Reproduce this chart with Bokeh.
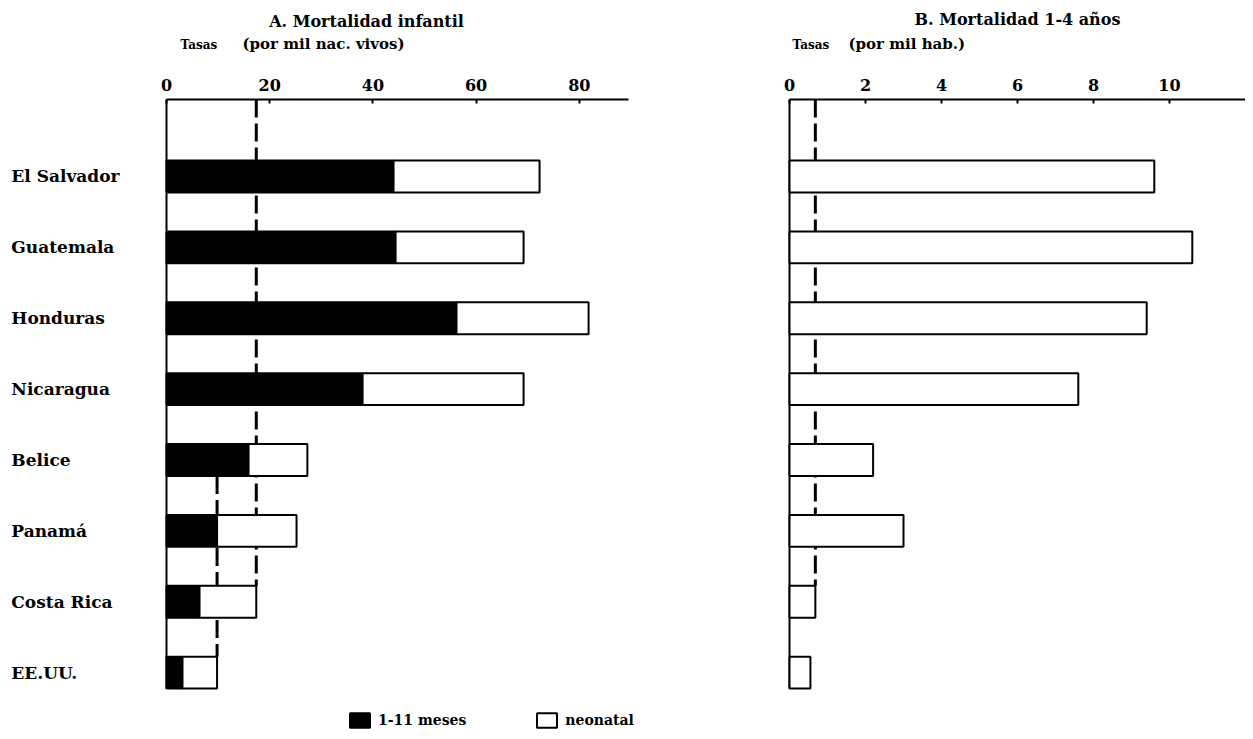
from bokeh.plotting import figure
from bokeh.layouts import row, column
from bokeh.models import Range1d, FixedTicker, Legend, LegendItem, LinearAxis
from bokeh.core.properties import value
from bokeh.embed import file_html
from bokeh.resources import INLINE

# ---------------- data ----------------
countries = ["El Salvador", "Guatemala", "Honduras", "Nicaragua",
             "Belice", "Panamá", "Costa Rica", "EE.UU."]
meses_1_11 = [44.0, 44.4, 56.2, 38.0, 15.9, 9.8, 6.4, 3.1]      # black part
neonatal = [28.3, 24.8, 25.6, 31.2, 11.4, 15.4, 11.0, 6.7]      # white part
mort_1_4 = [9.6, 10.6, 9.4, 7.6, 2.2, 3.0, 0.68, 0.55]
ticks_a = [0, 20, 40, 60, 80]
ticks_b = [0, 2, 4, 6, 8, 10]
ref_country = "Costa Rica"     # dashed reference line (both panels)
ref2_country = "EE.UU."        # second reference line (panel A)
ref2_from = "Belice"           # second line starts below this bar

title_a = "A. Mortalidad infantil"
title_b = "B. Mortalidad 1-4 años"
unit_a = "(por mil nac. vivos)"
unit_b = "(por mil hab.)"
tasas = "Tasas"

FONT = "DejaVu Serif"
HEAD_H = 60
MAIN_H = 671
TOP = 39
BAR_H = 0.45

idx = list(range(len(countries)))
total_a = [a + b for a, b in zip(meses_1_11, neonatal)]
y_top = -1.086
y_bot = 7.83


def base_fig(width, xr):
    p = figure(width=width, height=MAIN_H, x_range=xr, y_range=Range1d(y_bot, y_top),
               output_backend="svg", toolbar_location=None,
               x_axis_location=None, y_axis_location=None,
               min_border_left=0, min_border_right=0,
               min_border_top=TOP, min_border_bottom=0)
    p.grid.visible = False
    p.outline_line_color = None
    p.background_fill_color = "white"
    p.border_fill_color = "white"
    return p


def top_axis(p, ticks, bound):
    ax = LinearAxis(ticker=FixedTicker(ticks=ticks), bounds=(0, bound),
                    axis_line_width=2, axis_line_color="black",
                    major_tick_in=4, major_tick_out=0, major_tick_line_width=2,
                    minor_tick_line_color=None,
                    major_label_text_font=FONT, major_label_text_font_size="16px",
                    major_label_text_font_style="bold", major_label_text_color="black",
                    major_label_standoff=9)
    p.add_layout(ax, "above")


# ---------------- header (titles) ----------------
head = figure(width=1245, height=HEAD_H, x_range=Range1d(0, 1245), y_range=Range1d(HEAD_H, 0),
              output_backend="svg", toolbar_location=None,
              x_axis_location=None, y_axis_location=None,
              min_border=0)
head.grid.visible = False
head.outline_line_color = None
head.text(x=[366, 1017], y=[21, 19], text=[title_a, title_b],
          text_font=value(FONT), text_font_size="16px", text_font_style="bold",
          text_align="center", text_baseline="middle", text_color="black")
head.text(x=[180, 792], y=[44, 44], text=[tasas, tasas],
          text_font=value(FONT), text_font_size="12px", text_font_style="bold",
          text_align="left", text_baseline="middle", text_color="black")
head.text(x=[242, 848], y=[43, 43], text=[unit_a, unit_b],
          text_font=value(FONT), text_font_size="15px", text_font_style="bold",
          text_align="left", text_baseline="middle", text_color="black")

# ---------------- panel A ----------------
pA = base_fig(698, Range1d(-32.17, 103.1))
top_axis(pA, ticks_a, 89.5)

ci = countries.index(ref_country)
pA.segment(x0=[total_a[ci]], y0=[y_top], x1=[total_a[ci]], y1=[ci - BAR_H / 2],
           line_color="black", line_width=3, line_dash="18 6")
ui = countries.index(ref2_country)
bi = countries.index(ref2_from)
pA.segment(x0=[total_a[ui]], y0=[bi + BAR_H / 2], x1=[total_a[ui]], y1=[ui - BAR_H / 2],
           line_color="black", line_width=3, line_dash="18 6")
pA.segment(x0=[0], y0=[y_top], x1=[0], y1=[idx[-1] + BAR_H / 2],
           line_color="black", line_width=2)

r_black = pA.hbar(y=idx, left=0, right=meses_1_11, height=BAR_H,
                  fill_color="black", line_color="black", line_width=2)
r_white = pA.hbar(y=idx, left=meses_1_11, right=total_a, height=BAR_H,
                  fill_color="white", line_color="black", line_width=2)

pA.text(x=[pA.x_range.start + 2.1] * len(countries), y=idx, text=countries,
        text_font=value(FONT), text_font_size="17px", text_font_style="bold",
        text_align="left", text_baseline="middle", text_color="black")

legend = Legend(items=[LegendItem(label="1-11 meses", renderers=[r_black]),
                       LegendItem(label="neonatal", renderers=[r_white])],
                orientation="horizontal", location=(347, 2),
                glyph_width=25, glyph_height=18, label_height=18,
                label_standoff=6, spacing=68, padding=0, margin=0,
                border_line_color=None, background_fill_alpha=0,
                label_text_font=FONT, label_text_font_size="14px",
                label_text_font_style="bold", label_text_color="black")
pA.add_layout(legend, "center")

# ---------------- panel B ----------------
pB = base_fig(547, Range1d(-2.395, 12.0))
top_axis(pB, ticks_b, 12.0)

pB.segment(x0=[mort_1_4[ci]], y0=[y_top], x1=[mort_1_4[ci]], y1=[ci - BAR_H / 2],
           line_color="black", line_width=3, line_dash="18 6")
pB.segment(x0=[0], y0=[y_top], x1=[0], y1=[idx[-1] + BAR_H / 2],
           line_color="black", line_width=2)
pB.hbar(y=idx, left=0, right=mort_1_4, height=BAR_H,
        fill_color="white", line_color="black", line_width=2)

layout = column(head, row(pA, pB))
open("out.html", "w").write(file_html(layout, INLINE))
